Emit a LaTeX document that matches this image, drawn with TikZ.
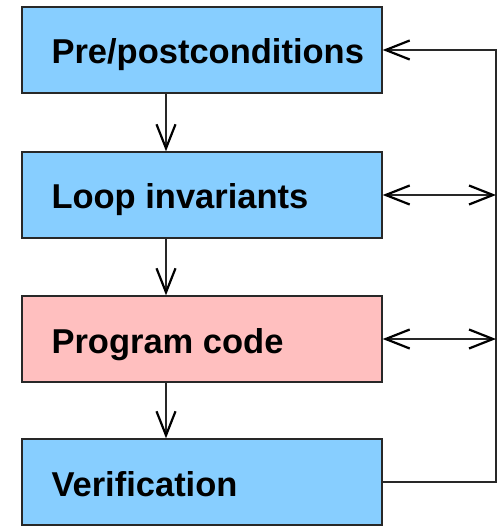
\documentclass[tikz,border=0pt]{standalone}
\usepackage{fontspec}
\setmainfont{Liberation Sans}
\usetikzlibrary{arrows.meta}
\definecolor{boxblue}{RGB}{135,206,255}
\definecolor{boxpink}{RGB}{255,191,191}
\definecolor{edgegray}{RGB}{40,40,40}
\tikzset{
  stagebox/.style={draw=edgegray, line width=1.4pt, minimum width=360pt, minimum height=86pt, inner sep=0pt},
  stagelabel/.style={anchor=base west, inner sep=0pt, font=\fontsize{34.5}{40}\selectfont\bfseries},
  barb/.tip={Straight Barb[length=24pt,width=19pt,line width=2.2pt,color=black]},
  flow/.style={draw=edgegray, line width=1.2pt, -barb},
  both/.style={draw=edgegray, line width=1.2pt, barb-barb},
}
\begin{document}
\begin{tikzpicture}[x=1pt,y=-1pt]
  \useasboundingbox (0,0) rectangle (497,526);
  % stages of the development loop
  \node[stagebox, fill=boxblue] (pre)  at (202,50)  {};
  \node[stagebox, fill=boxblue] (loop) at (202,195) {};
  \node[stagebox, fill=boxpink] (code) at (202,339) {};
  \node[stagebox, fill=boxblue] (ver)  at (202,482) {};
  \node[stagelabel] (pret)  at ([xshift=30pt,yshift=-14pt]pre.west)  {Pre/postconditions};
  \node[stagelabel] (loopt) at ([xshift=30pt,yshift=-14pt]loop.west) {Loop invariants};
  \node[stagelabel] (codet) at ([xshift=30pt,yshift=-14pt]code.west) {Program code};
  \node[stagelabel] (vert)  at ([xshift=30pt,yshift=-14pt]ver.west)  {Verification};
  % guides for the vertical arrows and the feedback rail
  \coordinate (vx) at (166,0);
  \coordinate (rx) at (496,0);
  % downward flow
  \draw[flow] (pre.south -| vx)  -- (loop.north -| vx);
  \draw[flow] (loop.south -| vx) -- (code.north -| vx);
  \draw[flow] (code.south -| vx) -- (ver.north -| vx);
  % feedback rail
  \draw[flow] (ver.east) -- (ver.east -| rx) |- (pre.east);
  \draw[both] (loop.east) -- (loop.east -| rx);
  \draw[both] (code.east) -- (code.east -| rx);
\end{tikzpicture}
\end{document}
